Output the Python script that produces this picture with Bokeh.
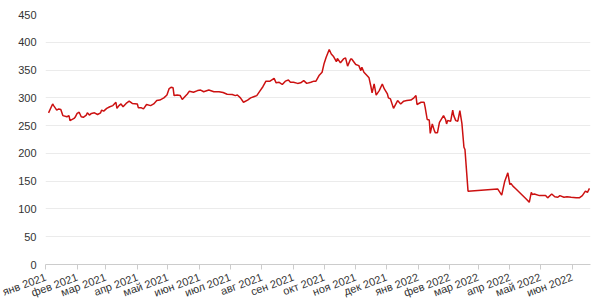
import math
from datetime import datetime
from bokeh.plotting import figure
from bokeh.models import FixedTicker, CustomJSTickFormatter, Range1d
from bokeh.embed import file_html
from bokeh.resources import INLINE

dates = [
    "2021-01-04", "2021-01-08", "2021-01-09", "2021-01-12", "2021-01-14", "2021-01-16",
    "2021-01-18", "2021-01-22", "2021-01-24", "2021-01-25", "2021-01-29", "2021-01-30",
    "2021-02-01", "2021-02-03", "2021-02-05", "2021-02-07", "2021-02-10", "2021-02-11",
    "2021-02-13", "2021-02-15", "2021-02-18", "2021-02-21", "2021-02-24", "2021-02-25",
    "2021-02-27", "2021-03-02", "2021-03-05", "2021-03-08", "2021-03-11", "2021-03-12",
    "2021-03-14", "2021-03-16", "2021-03-18", "2021-03-21", "2021-03-24", "2021-03-27",
    "2021-04-01", "2021-04-02", "2021-04-05", "2021-04-07", "2021-04-10", "2021-04-14",
    "2021-04-17", "2021-04-20", "2021-04-23", "2021-04-27", "2021-04-30", "2021-05-02",
    "2021-05-04", "2021-05-06", "2021-05-07", "2021-05-10", "2021-05-13", "2021-05-15",
    "2021-05-17", "2021-05-20", "2021-05-22", "2021-05-26", "2021-05-30", "2021-06-02",
    "2021-06-05", "2021-06-10", "2021-06-15", "2021-06-20", "2021-06-24", "2021-06-28",
    "2021-07-03", "2021-07-06", "2021-07-08", "2021-07-11", "2021-07-14", "2021-07-18",
    "2021-07-21", "2021-07-24", "2021-07-27", "2021-07-30", "2021-08-02", "2021-08-05",
    "2021-08-09", "2021-08-13", "2021-08-15", "2021-08-18", "2021-08-21", "2021-08-24",
    "2021-08-27", "2021-08-29", "2021-09-01", "2021-09-05", "2021-09-08", "2021-09-11",
    "2021-09-14", "2021-09-18", "2021-09-21", "2021-09-23", "2021-09-26", "2021-09-29",
    "2021-10-01", "2021-10-03", "2021-10-06", "2021-10-08", "2021-10-10", "2021-10-13",
    "2021-10-14", "2021-10-17", "2021-10-20", "2021-10-22", "2021-10-24", "2021-10-27",
    "2021-10-28", "2021-11-01", "2021-11-04", "2021-11-06", "2021-11-07", "2021-11-09",
    "2021-11-12", "2021-11-14", "2021-11-16", "2021-11-17", "2021-11-19", "2021-11-21",
    "2021-11-24", "2021-11-27", "2021-11-29", "2021-12-02", "2021-12-03", "2021-12-05",
    "2021-12-08", "2021-12-12", "2021-12-15", "2021-12-18", "2021-12-21", "2021-12-25",
    "2021-12-28", "2021-12-30", "2021-12-31", "2022-01-04", "2022-01-07", "2022-01-08",
    "2022-01-10", "2022-01-12", "2022-01-13", "2022-01-15", "2022-01-17", "2022-01-18",
    "2022-01-20", "2022-01-22", "2022-01-26", "2022-01-28", "2022-01-29", "2022-01-30",
    "2022-02-02", "2022-02-04", "2022-02-05", "2022-02-07", "2022-02-09", "2022-02-11",
    "2022-02-13", "2022-02-15", "2022-02-16", "2022-02-19", "2022-03-20", "2022-03-24",
    "2022-03-27", "2022-03-30", "2022-04-01", "2022-04-02", "2022-04-04", "2022-04-07",
    "2022-04-12", "2022-04-17", "2022-04-20", "2022-04-22", "2022-04-23", "2022-04-25",
    "2022-04-30", "2022-05-06", "2022-05-08", "2022-05-12", "2022-05-15", "2022-05-18",
    "2022-05-20", "2022-05-24", "2022-05-27", "2022-05-31", "2022-06-05", "2022-06-08",
    "2022-06-11", "2022-06-14", "2022-06-16", "2022-06-18",
]

prices = [
    273, 289, 286, 278, 280, 279,
    268, 266, 268, 259, 263, 265,
    272, 274, 266, 265, 269, 273,
    269, 272, 273, 270, 273, 278,
    276, 281, 284, 286, 292, 281,
    286, 289, 284, 290, 294, 290,
    289, 282, 282, 280, 288, 286,
    289, 295, 296, 300, 305, 316,
    319, 318, 304, 305, 304, 297,
    301, 307, 312, 310, 313, 314,
    311, 314, 311, 311, 309.5, 306.5,
    306, 304, 305, 300, 292, 296,
    300, 302, 304, 312, 320, 330,
    330, 335, 327, 328, 324, 330,
    332, 328, 328, 326, 327, 331,
    326, 328, 330, 330, 340, 346,
    362, 373, 387, 379, 375, 365,
    371, 363, 370, 372, 357, 370,
    370, 360, 358, 349, 355, 346,
    340, 336, 319, 309, 325, 305,
    313, 325, 316, 307, 300, 298,
    281, 295, 289, 294, 295, 296,
    300, 304, 288, 292, 292, 283,
    261, 260, 236, 253, 241, 237,
    237, 256, 268, 261, 253, 259,
    258, 278, 268, 259, 258, 277,
    254, 211, 207, 132, 136, 125,
    150, 165, 144, 146, 141, 136,
    127, 118, 112, 130, 126, 127,
    124, 124, 120, 127, 122, 121,
    124, 121, 122, 121, 120, 120,
    124, 132, 130, 137,
]

month_labels = [
    "янв 2021", "фев 2021", "мар 2021", "апр 2021", "май 2021", "июн 2021",
    "июл 2021", "авг 2021", "сен 2021", "окт 2021", "ноя 2021", "дек 2021",
    "янв 2022", "фев 2022", "мар 2022", "апр 2022", "май 2022", "июн 2022",
]

y_ticks = [0, 50, 100, 150, 200, 250, 300, 350, 400, 450]

x = [datetime.strptime(d, "%Y-%m-%d") for d in dates]

month_starts = []
for i in range(len(month_labels)):
    yy = 2021 + i // 12
    mm = i % 12 + 1
    month_starts.append(datetime(yy, mm, 1).timestamp() * 1000)

FONT = "Liberation Sans"

p = figure(
    width=600, height=307, x_axis_type="datetime",
    output_backend="svg", toolbar_location=None,
    x_range=Range1d(datetime(2021, 1, 1), datetime(2022, 6, 19)),
    y_range=Range1d(0, 450),
    min_border_left=45, min_border_right=10, min_border_top=14, min_border_bottom=0,
)
p.outline_line_color = None
p.background_fill_color = "white"
p.border_fill_color = "white"

p.line(x, prices, line_color="#cc1111", line_width=1.5)

p.xgrid.grid_line_color = None
p.ygrid.grid_line_color = "#ebebeb"
p.ygrid.grid_line_width = 1

p.yaxis.ticker = FixedTicker(ticks=y_ticks)
p.yaxis.axis_line_color = None
p.yaxis.major_tick_line_color = None
p.yaxis.minor_tick_line_color = None
p.yaxis.major_label_text_font = FONT
p.yaxis.major_label_text_font_size = "11px"
p.yaxis.major_label_text_color = "#333333"
p.yaxis.major_label_standoff = 9
p.yaxis.major_tick_out = 0
p.yaxis.major_tick_in = 0

p.xaxis.ticker = FixedTicker(ticks=month_starts, minor_ticks=[])
p.xaxis.formatter = CustomJSTickFormatter(args=dict(names=month_labels), code="""
const d = new Date(tick);
const i = (d.getUTCFullYear() - 2021) * 12 + d.getUTCMonth();
return names[i];
""")
p.xaxis.axis_line_color = "#cccccc"
p.xaxis.major_tick_line_color = "#cccccc"
p.xaxis.major_tick_out = 5
p.xaxis.major_tick_in = 0
p.xaxis.minor_tick_line_color = None
p.xaxis.major_label_orientation = math.pi / 9
p.xaxis.major_label_text_font = FONT
p.xaxis.major_label_text_font_size = "11px"
p.xaxis.major_label_text_color = "#333333"
p.xaxis.major_label_standoff = 7

open("out.html", "w").write(file_html(p, INLINE))
